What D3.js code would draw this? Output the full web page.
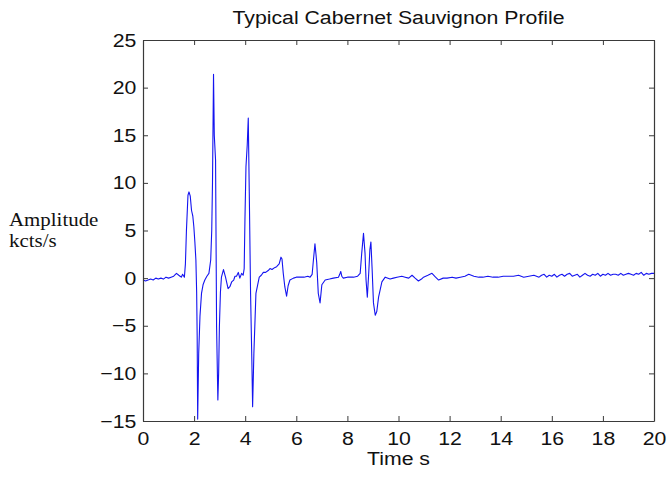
<!DOCTYPE html>
<html>
<head>
<meta charset="utf-8">
<script src="https://cdn.jsdelivr.net/npm/d3@7"></script>
<style>
  body { margin: 0; background: #fff; }
  svg { display: block; }
</style>
</head>
<body>
<script>
'use strict';

var width = 669,
    height = 477;

var margin = {top: 40, right: 15, bottom: 56, left: 143};

// values (time in s, amplitude in kcts/s), 10 per row
var times = [
  0, 0.1, 0.2, 0.3, 0.4, 0.5, 0.6, 0.7, 0.8, 0.9,
  1.0, 1.1, 1.2, 1.31, 1.4, 1.45, 1.5, 1.55, 1.62, 1.66,
  1.7, 1.76, 1.8, 1.85, 1.9, 1.95, 1.99, 2.03, 2.07, 2.1,
  2.12, 2.14, 2.18, 2.23, 2.29, 2.35, 2.42, 2.5, 2.58, 2.65,
  2.69, 2.72, 2.76, 2.79, 2.84, 2.88, 2.93, 2.96, 2.99, 3.03,
  3.07, 3.15, 3.23, 3.33, 3.4, 3.47, 3.55, 3.6, 3.66, 3.73,
  3.79, 3.86, 3.92, 3.96, 3.99, 4.03, 4.08, 4.12, 4.16, 4.21,
  4.26, 4.29, 4.34, 4.42, 4.55, 4.63, 4.71, 4.8, 4.9, 4.97,
  5.05, 5.15, 5.23, 5.33, 5.4, 5.44, 5.49, 5.55, 5.62, 5.68,
  5.75, 5.89, 6.0, 6.15, 6.3, 6.45, 6.54, 6.62, 6.67, 6.73,
  6.77, 6.8, 6.86, 6.93, 7.0, 7.13, 7.3, 7.45, 7.65, 7.7,
  7.74, 7.78, 7.84, 8.0, 8.24, 8.4, 8.5, 8.56, 8.63, 8.69,
  8.73, 8.78, 8.84, 8.88, 8.92, 8.97, 9.02, 9.09, 9.15, 9.22,
  9.35, 9.48, 9.67, 9.8, 9.94, 10.13, 10.26, 10.4, 10.53, 10.65,
  10.78, 10.9, 10.98, 11.15, 11.31, 11.45, 11.57, 11.75, 11.9, 12.1,
  12.25, 12.42, 12.6, 12.75, 12.95, 13.14, 13.3, 13.5, 13.7, 13.9,
  14.1, 14.3, 14.5, 14.7, 14.9, 15.1, 15.3, 15.5, 15.6, 15.7,
  15.8, 15.9, 16.0, 16.1, 16.2, 16.3, 16.4, 16.5, 16.6, 16.7,
  16.8, 16.9, 17.0, 17.1, 17.2, 17.3, 17.4, 17.5, 17.6, 17.7,
  17.8, 17.9, 18.0, 18.1, 18.2, 18.3, 18.4, 18.5, 18.6, 18.7,
  18.8, 18.9, 19.0, 19.1, 19.2, 19.3, 19.4, 19.5, 19.6, 19.7,
  19.8, 19.9, 20.0
];

var amplitudes = [
  -0.2, -0.3, -0.2, -0.1, -0.2, 0.0, -0.1, 0.0, -0.1, 0.1,
  0.0, 0.1, 0.2, 0.5, 0.3, 0.2, 0.1, 0.4, 0.1, 1.5,
  5.0, 8.7, 9.05, 8.6, 7.1, 6.5, 5.4, 3.8, 1.9, -1.5,
  -6.0, -14.8, -7.9, -4.0, -1.6, -0.7, -0.2, 0.2, 0.5, 1.9,
  5.0, 10.0, 21.4, 15.0, 12.4, -5.1, -12.8, -10.0, -5.1, -1.5,
  0.1, 0.9, 0.1, -1.1, -0.9, -0.4, -0.2, 0.2, 0.2, 0.6,
  0.0, 0.5, 0.3, 1.0, 6.1, 11.7, 14.0, 16.8, 8.9, -1.6,
  -8.6, -13.5, -7.9, -1.6, 0.1, 0.3, 0.6, 0.6, 0.8, 1.0,
  0.9, 1.1, 1.2, 1.5, 2.2, 2.0, 0.5, -0.9, -1.9, -0.8,
  -0.2, 0.0, 0.1, 0.1, 0.1, 0.2, 0.1, 0.4, 1.9, 3.6,
  2.5, 1.6, -1.6, -2.6, -0.7, -0.2, -0.1, 0.0, 0.1, 0.4,
  0.7, 0.2, 0.0, 0.1, 0.1, 0.2, 0.5, 2.6, 4.7, 2.6,
  -0.2, -2.0, 0.8, 3.0, 3.8, 0.8, -2.6, -3.9, -3.5, -2.0,
  -0.4, 0.1, -0.1, 0.0, 0.1, 0.2, 0.1, 0.0, 0.3, 0.0,
  -0.3, -0.1, 0.1, 0.3, 0.5, 0.1, -0.2, 0.0, 0.0, 0.1,
  0.0, 0.1, 0.2, 0.4, 0.2, 0.1, 0.1, 0.2, 0.1, 0.1,
  0.2, 0.2, 0.2, 0.3, 0.1, 0.2, 0.3, 0.1, 0.3, 0.4,
  0.1, 0.3, 0.2, 0.4, 0.1, 0.3, 0.4, 0.2, 0.4, 0.5,
  0.2, 0.3, 0.4, 0.1, 0.3, 0.5, 0.3, 0.2, 0.4, 0.3,
  0.5, 0.2, 0.4, 0.3, 0.5, 0.3, 0.4, 0.4, 0.3, 0.5,
  0.3, 0.4, 0.5, 0.4, 0.3, 0.5, 0.4, 0.6, 0.3, 0.5,
  0.4, 0.5, 0.5
];

var xTicks = [0, 2, 4, 6, 8, 10, 12, 14, 16, 18, 20];
var yTicks = [-15, -10, -5, 0, 5, 10, 15, 20, 25];

var title = "Typical Cabernet Sauvignon Profile";
var xLabel = "Time s";
var yLabel = ["Amplitude", "kcts/s"];

var svg = d3.select("body").append("svg")
    .attr("width", width)
    .attr("height", height);

var x = d3.scaleLinear()
    .domain([0, 20])
    .range([margin.left, width - margin.right]);

var y = d3.scaleLinear()
    .domain([-15, 25])
    .range([height - margin.bottom, margin.top]);

var axisColor = "#3a3a3a",
    sansFont = "'Liberation Sans', Arial, Helvetica, sans-serif",
    stretch = 1.12;   // the original lettering is a bit wider than Arial

// the trace
var line = d3.line()
    .x(function(d) { return x(d[0]); })
    .y(function(d) { return y(d[1]); });

var points = d3.zip(times, amplitudes);

svg.append("path")
    .datum(points)
    .attr("fill", "none")
    .attr("stroke", "#1414f0")
    .attr("stroke-width", 1.1)
    .attr("stroke-linejoin", "round")
    .attr("d", line);

// axes: ticks point inwards, box on all four sides
function styleAxis(g) {
  g.select(".domain").attr("stroke", axisColor).attr("stroke-width", 1.2);
  g.selectAll(".tick line").attr("stroke", axisColor).attr("stroke-width", 1);
  g.selectAll(".tick text")
      .attr("fill", "#111")
      .attr("transform", "scale(" + stretch + ",1)")
      .style("font-family", sansFont)
      .style("font-size", "19px");
}

svg.append("g")
    .attr("transform", "translate(0," + y(-15) + ")")
    .call(d3.axisBottom(x).tickValues(xTicks).tickSizeInner(-5).tickSizeOuter(0).tickPadding(11))
    .call(styleAxis);

svg.append("g")
    .attr("transform", "translate(0," + y(25) + ")")
    .call(d3.axisTop(x).tickValues(xTicks).tickSizeInner(-5).tickSizeOuter(0).tickFormat(""))
    .call(styleAxis);

svg.append("g")
    .attr("transform", "translate(" + x(0) + ",0)")
    .call(d3.axisLeft(y).tickValues(yTicks).tickSizeInner(-5).tickSizeOuter(0).tickPadding(6))
    .call(styleAxis);

svg.append("g")
    .attr("transform", "translate(" + x(20) + ",0)")
    .call(d3.axisRight(y).tickValues(yTicks).tickSizeInner(-5).tickSizeOuter(0).tickFormat(""))
    .call(styleAxis);

// title and labels
var midX = (x(0) + x(20)) / 2;

svg.append("text")
    .attr("transform", "translate(" + midX + ",24) scale(" + stretch + ",1)")
    .attr("text-anchor", "middle")
    .style("font-family", sansFont)
    .style("font-size", "19px")
    .attr("fill", "#111")
    .text(title);

svg.append("text")
    .attr("transform", "translate(" + midX + ",465) scale(" + stretch + ",1)")
    .attr("text-anchor", "middle")
    .style("font-family", sansFont)
    .style("font-size", "19px")
    .attr("fill", "#111")
    .text(xLabel);

svg.append("g")
    .selectAll("text")
    .data(yLabel)
    .enter().append("text")
        .attr("transform", function(d, i) {
          return "translate(9," + (226 + i * 21) + ") scale(1.1,1)";
        })
        .style("font-family", "'Liberation Serif', 'Times New Roman', serif")
        .style("font-size", "19px")
        .attr("fill", "#111")
        .text(function(d) { return d; });
</script>
</body>
</html>
